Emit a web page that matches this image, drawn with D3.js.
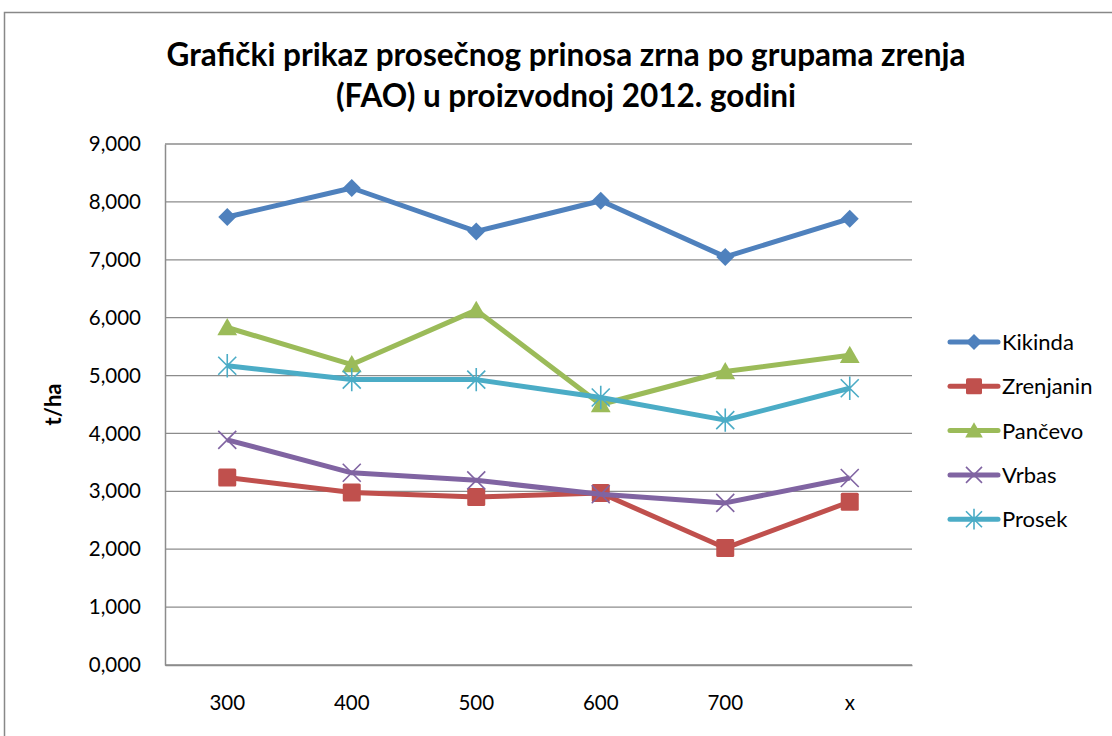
<!DOCTYPE html>
<html>
<head>
<meta charset="utf-8">
<script src="https://cdn.jsdelivr.net/npm/d3@7"></script>
<style>
  body { margin: 0; background: #fff; }
  svg { font-family: Lato, "Open Sans", sans-serif; }
</style>
</head>
<body>
<div id="chart"></div>
<script>
const categories = ["300", "400", "500", "600", "700", "x"];
const seriesNames = ["Kikinda", "Zrenjanin", "Pančevo", "Vrbas", "Prosek"];
const kikinda = [7.74, 8.24, 7.49, 8.02, 7.05, 7.71];
const zrenjanin = [3.24, 2.98, 2.90, 2.97, 2.02, 2.82];
const pancevo = [5.83, 5.19, 6.13, 4.50, 5.07, 5.35];
const vrbas = [3.89, 3.32, 3.19, 2.95, 2.80, 3.23];
const prosek = [5.17, 4.93, 4.93, 4.62, 4.23, 4.78];
const yTicks = [0, 1, 2, 3, 4, 5, 6, 7, 8, 9];
const titleLines = ["Grafički prikaz prosečnog prinosa zrna po grupama zrenja", "(FAO) u proizvodnoj 2012. godini"];

const colors = ["#4F81BD", "#C0504D", "#9BBB59", "#8064A2", "#4BACC6"];
const symbols = ["diamond", "square", "triangle", "x", "star"];
const series = [kikinda, zrenjanin, pancevo, vrbas, prosek].map((v, i) => ({
  name: seriesNames[i], values: v, color: colors[i], symbol: symbols[i]
}));

const W = 1112, H = 736;
const plot = {left: 165, right: 912, top: 144, bottom: 665};

const svg = d3.select("#chart").append("svg")
  .attr("width", W).attr("height", H);

// outer chart border
svg.append("rect")
  .attr("x", 4.5).attr("y", 12.5)
  .attr("width", W + 10).attr("height", H + 10)
  .attr("fill", "none").attr("stroke", "#888").attr("stroke-width", 1.5);

const x = d3.scaleBand().domain(categories).range([plot.left, plot.right]);
const y = d3.scaleLinear().domain([0, 9]).range([plot.bottom, plot.top]);
const locale = d3.formatLocale({decimal: ",", thousands: ".", grouping: [3], currency: ["", ""]});
const fmt = locale.format(".3f");

// gridlines
svg.append("g").selectAll("line").data(yTicks).enter().append("line")
  .attr("x1", plot.left).attr("x2", plot.right)
  .attr("y1", d => y(d)).attr("y2", d => y(d))
  .attr("stroke", "#8c8c8c").attr("stroke-width", 1.3);

// y axis
const yAxis = svg.append("g")
  .attr("transform", `translate(${plot.left},0)`)
  .call(d3.axisLeft(y).tickValues(yTicks).tickFormat(fmt).tickSize(0).tickPadding(24));
yAxis.select(".domain").attr("stroke", "#8c8c8c").attr("stroke-width", 1.5);
yAxis.selectAll("text").attr("font-size", 20.5).attr("fill", "#000")
  .attr("font-family", "Lato, sans-serif");

// x axis
const xAxis = svg.append("g")
  .attr("transform", `translate(0,${plot.bottom})`)
  .call(d3.axisBottom(x).tickSize(0).tickPadding(30));
xAxis.select(".domain").attr("stroke", "#8c8c8c").attr("stroke-width", 1.5);
xAxis.selectAll("text").attr("font-size", 20.5).attr("fill", "#000")
  .attr("font-family", "Lato, sans-serif");

// y title
svg.append("text")
  .attr("transform", `translate(61,${(plot.top + plot.bottom) / 2}) rotate(-90)`)
  .attr("text-anchor", "middle")
  .attr("font-size", 22).attr("font-weight", "bold")
  .text("t/ha");

// title
svg.append("g").selectAll("text").data(titleLines).enter().append("text")
  .attr("x", 566).attr("y", (d, i) => 66 + i * 41)
  .attr("text-anchor", "middle")
  .attr("font-size", 31.5).attr("font-weight", "bold")
  .text(d => d);

function marker(g, s, size) {
  const r = size / 2;
  if (s.symbol === "x" || s.symbol === "star") {
    g.append("path")
      .attr("d", `M${-r},${-r}L${r},${r}M${-r},${r}L${r},${-r}` +
        (s.symbol === "star" ? `M0,${-r * 1.3}L0,${r * 1.3}` : ""))
      .attr("stroke", s.color).attr("stroke-width", 1.6).attr("fill", "none");
  } else if (s.symbol === "diamond") {
    g.append("path").attr("d", `M0,${-r}L${r},0L0,${r}L${-r},0Z`).attr("fill", s.color);
  } else if (s.symbol === "square") {
    g.append("rect").attr("x", -r).attr("y", -r).attr("width", size).attr("height", size)
      .attr("rx", 1.5).attr("fill", s.color);
  } else {
    g.append("path").attr("d", `M0,${-r * 1.05}L${r * 1.1},${r * 0.85}L${-r * 1.1},${r * 0.85}Z`)
      .attr("fill", s.color);
  }
}

const line = d3.line().x((d, i) => x(categories[i]) + x.bandwidth() / 2).y(d => y(d));

series.forEach(s => {
  const g = svg.append("g");
  g.append("path").datum(s.values)
    .attr("d", line)
    .attr("fill", "none").attr("stroke", s.color)
    .attr("stroke-width", 5).attr("stroke-linejoin", "round");
  s.values.forEach((v, i) => {
    const m = g.append("g")
      .attr("transform", `translate(${x(categories[i]) + x.bandwidth() / 2},${y(v)})`);
    marker(m, s, 18);
  });
});

// legend
const legend = svg.append("g");
series.forEach((s, i) => {
  const ly = 342 + i * 44.3;
  const lg = legend.append("g");
  lg.append("line").attr("x1", 950).attr("x2", 998).attr("y1", ly).attr("y2", ly)
    .attr("stroke", s.color).attr("stroke-width", 5).attr("stroke-linecap", "round");
  const m = lg.append("g").attr("transform", `translate(974,${ly})`);
  marker(m, s, 16);
  lg.append("text").attr("x", 1002).attr("y", ly).attr("dy", "0.36em")
    .attr("font-size", 22).text(s.name);
});
</script>
</body>
</html>
